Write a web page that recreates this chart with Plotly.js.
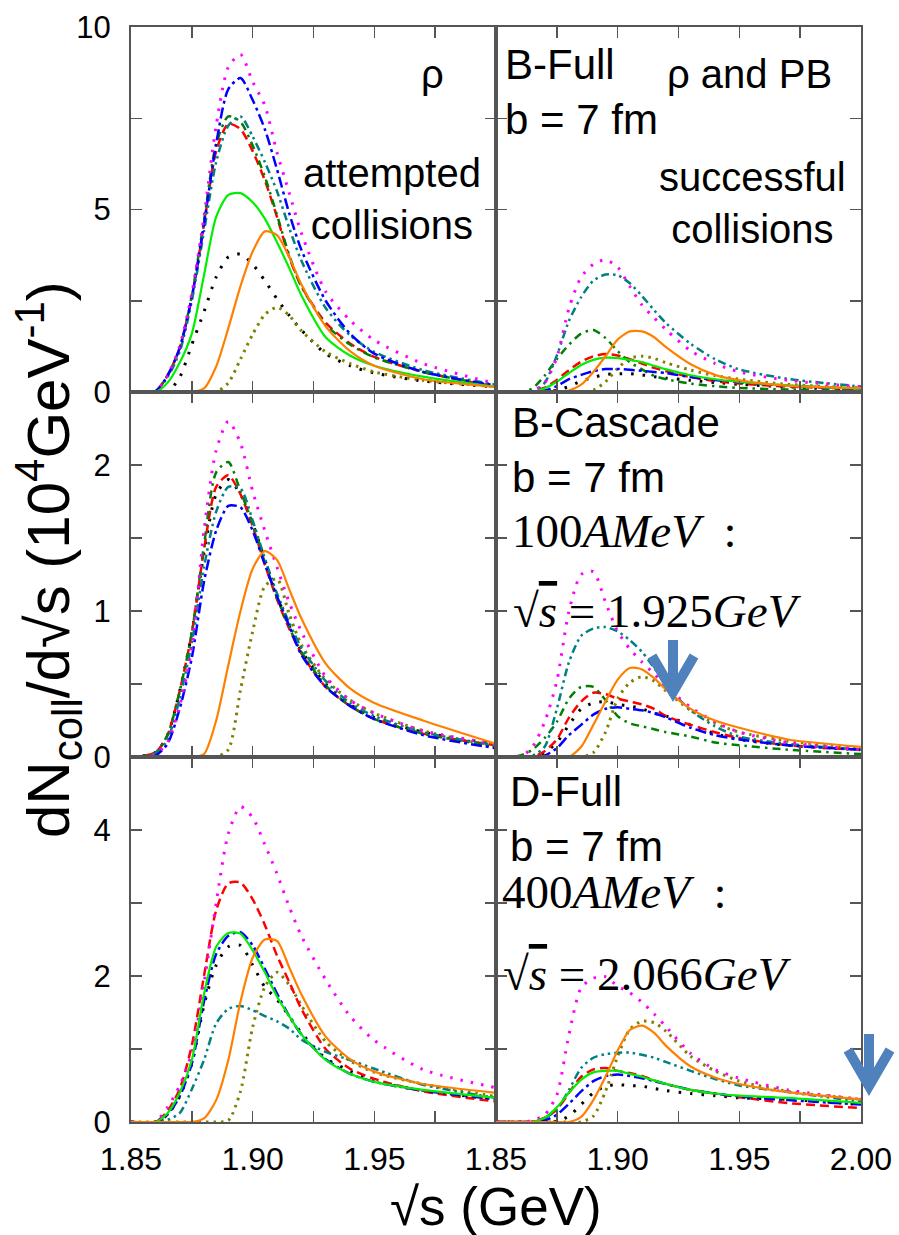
<!DOCTYPE html>
<html><head><meta charset="utf-8">
<script src="https://cdn.plot.ly/plotly-3.0.1.min.js"></script>
<style>html,body{margin:0;padding:0;background:#fff}#plot{width:899px;height:1235px}</style>
</head><body><div id="plot"></div>
<script>
// shared sqrt(s) grid (GeV)
const X = [1.85,1.86,1.865,1.87,1.875,1.88,1.885,1.89,1.895,1.90,1.905,1.91,1.915,1.92,1.93,1.94,1.95,1.97,2.00];

// ---- B-Full, rho, attempted collisions (top-left) ----
const TL_MAGENTA = [0,0.02,0.45,1.25,2.7,4.8,7.3,8.9,9.25,8.5,7.85,6.56,5.46,4.36,2.75,1.97,1.42,0.78,0.23];
const TL_BLUE    = [0,0.02,0.45,1.2,2.6,4.6,6.8,8.3,8.6,8.0,7.2,6.1,4.9,3.9,2.5,1.6,1.05,0.55,0.18];
const TL_TEAL    = [0,0.02,0.4,1.1,2.5,4.4,6.3,7.3,7.55,7.0,6.3,5.5,4.5,3.6,2.3,1.55,1.1,0.6,0.2];
const TL_RED     = [0,0.02,0.45,1.2,2.6,4.6,6.6,7.35,7.2,6.6,5.8,4.8,3.7,2.9,1.9,1.33,0.96,0.55,0.14];
const TL_DKGREEN = [0,0.02,0.45,1.2,2.65,4.7,6.8,7.55,7.4,6.75,5.9,4.85,3.75,2.9,1.85,1.3,0.95,0.55,0.15];
const TL_GREEN   = [0,0,0.25,0.8,1.6,3.2,4.8,5.4,5.45,5.2,4.75,4.1,3.4,2.65,1.5,1.0,0.72,0.42,0.14];
const TL_ORANGE  = [0,0,0,0,0,0.1,0.7,1.75,2.9,3.85,4.4,4.3,3.7,2.95,1.8,1.12,0.72,0.35,0.14];
const TL_BLACK   = [0,0,0,0.4,1.3,2.2,3.15,3.7,3.78,3.5,3.05,2.55,2.1,1.7,1.05,0.72,0.52,0.3,0.14];
const TL_OLIVE   = [0,0,0,0,0,0,0,0.25,0.9,1.58,2.12,2.32,2.1,1.68,1.1,0.78,0.55,0.32,0.15];

// ---- B-Full, rho and PB, successful collisions (top-right) ----
const TR_MAGENTA = [0,0,0.02,0.25,0.95,2.3,3.15,3.5,3.62,3.42,2.89,2.38,2.03,1.7,1.13,0.78,0.55,0.32,0.14];
const TR_TEAL    = [0,0,0,0.25,1.0,1.95,2.6,3.05,3.22,3.2,2.98,2.63,2.24,1.88,1.32,0.9,0.62,0.36,0.15];
const TR_DKGREEN = [0,0,0.1,0.45,0.9,1.3,1.6,1.7,1.48,1.12,0.82,0.62,0.44,0.35,0.23,0.16,0.11,0.07,0.04];
const TR_ORANGE  = [0,0,0,0,0,0.04,0.2,0.55,0.98,1.44,1.66,1.66,1.5,1.22,0.76,0.47,0.32,0.17,0.11];
const TR_RED     = [0,0,0.02,0.12,0.33,0.6,0.83,0.98,1.04,1.0,0.9,0.78,0.66,0.57,0.41,0.3,0.23,0.15,0.09];
const TR_GREEN   = [0,0,0,0.1,0.28,0.52,0.74,0.88,0.94,0.93,0.88,0.82,0.72,0.62,0.46,0.35,0.28,0.18,0.09];
const TR_BLUE    = [0,0,0,0.04,0.16,0.35,0.47,0.57,0.63,0.63,0.61,0.58,0.55,0.52,0.41,0.33,0.27,0.17,0.09];
const TR_BLACK   = [0,0,0,0,0.05,0.15,0.3,0.4,0.48,0.5,0.5,0.47,0.42,0.38,0.32,0.26,0.21,0.14,0.08];
const TR_OLIVE   = [0,0,0,0,0,0,0,0.05,0.28,0.65,0.92,0.98,0.92,0.8,0.6,0.45,0.35,0.21,0.11];

// ---- B-Cascade, attempted (middle-left) ----
const ML_MAGENTA = [0,0.02,0.1,0.35,0.75,1.55,2.1,2.3,2.15,1.82,1.55,1.3,1.06,0.86,0.55,0.39,0.3,0.18,0.09];
const ML_DKGREEN = [0,0.03,0.15,0.45,0.85,1.45,1.95,2.02,1.82,1.6,1.33,1.09,0.89,0.72,0.49,0.35,0.26,0.16,0.07];
const ML_RED     = [0,0.03,0.15,0.45,0.85,1.42,1.85,1.93,1.8,1.58,1.32,1.08,0.88,0.71,0.48,0.35,0.26,0.16,0.08];
const ML_BLACK   = [0,0.03,0.15,0.45,0.85,1.4,1.8,1.9,1.8,1.6,1.35,1.1,0.9,0.73,0.5,0.36,0.27,0.17,0.09];
const ML_TEAL    = [0,0.02,0.12,0.4,0.78,1.3,1.68,1.85,1.84,1.62,1.36,1.12,0.92,0.75,0.52,0.37,0.28,0.17,0.08];
const ML_BLUE    = [0,0.01,0.09,0.33,0.68,1.2,1.55,1.72,1.71,1.55,1.32,1.1,0.9,0.7,0.48,0.35,0.26,0.15,0.06];
const ML_ORANGE  = [0,0,0,0,0,0.02,0.25,0.63,1.0,1.29,1.41,1.35,1.15,0.95,0.64,0.47,0.37,0.25,0.09];
const ML_OLIVE   = [0,0,0,0,0,0,0,0.05,0.46,0.86,1.17,1.22,0.98,0.77,0.53,0.39,0.3,0.18,0.07];

// ---- B-Cascade, successful (middle-right) ----
const MR_MAGENTA = [0,0,0.07,0.24,0.52,1.0,1.25,1.27,1.06,0.86,0.74,0.65,0.57,0.48,0.34,0.24,0.17,0.1,0.05];
const MR_TEAL    = [0,0,0.01,0.07,0.33,0.65,0.83,0.88,0.89,0.86,0.8,0.72,0.61,0.49,0.32,0.21,0.14,0.09,0.05];
const MR_ORANGE  = [0,0,0,0,0,0,0.07,0.22,0.38,0.53,0.61,0.6,0.54,0.46,0.33,0.25,0.2,0.12,0.07];
const MR_OLIVE   = [0,0,0,0,0,0,0,0.03,0.17,0.4,0.51,0.55,0.52,0.45,0.32,0.23,0.17,0.11,0.06];
const MR_DKGREEN = [0,0.01,0.05,0.13,0.24,0.4,0.48,0.48,0.39,0.28,0.23,0.21,0.19,0.17,0.14,0.1,0.08,0.05,0.02];
const MR_RED     = [0,0,0,0.04,0.12,0.27,0.38,0.44,0.43,0.4,0.38,0.36,0.33,0.28,0.22,0.17,0.13,0.08,0.05];
const MR_BLACK   = [0,0,0,0.03,0.1,0.22,0.33,0.37,0.38,0.36,0.35,0.33,0.3,0.28,0.22,0.16,0.12,0.08,0.05];
const MR_BLUE    = [0,0,0,0.01,0.06,0.15,0.22,0.29,0.33,0.34,0.33,0.32,0.3,0.27,0.2,0.15,0.12,0.08,0.05];

// ---- D-Full, attempted (bottom-left) ----
const BL_MAGENTA = [0,0,0.2,0.5,0.95,1.9,3.0,3.95,4.32,4.17,3.8,3.4,2.95,2.55,1.95,1.45,1.12,0.72,0.47];
const BL_RED     = [0,0,0.15,0.45,1.05,2.0,2.9,3.27,3.28,3.05,2.7,2.28,1.92,1.55,1.0,0.73,0.59,0.42,0.28];
const BL_GREEN   = [0,0,0.12,0.4,0.85,1.75,2.4,2.59,2.58,2.35,2.05,1.72,1.45,1.2,0.85,0.66,0.55,0.44,0.33];
const BL_BLUE    = [0,0,0.1,0.35,0.8,1.65,2.3,2.55,2.6,2.42,2.1,1.76,1.45,1.2,0.86,0.66,0.55,0.43,0.31];
const BL_BLACK   = [0,0,0.1,0.35,0.8,1.6,2.15,2.4,2.42,2.15,1.85,1.68,1.45,1.22,0.87,0.7,0.56,0.43,0.31];
const BL_TEAL    = [0,0,0.03,0.12,0.45,0.85,1.35,1.55,1.59,1.53,1.45,1.38,1.28,1.13,0.96,0.85,0.73,0.51,0.33];
const BL_ORANGE  = [0,0,0,0,0,0.05,0.3,0.85,1.65,2.25,2.5,2.48,2.12,1.75,1.17,0.86,0.69,0.52,0.4];
const BL_OLIVE   = [0,0,0,0,0,0,0,0.02,0.42,1.3,1.85,2.05,1.88,1.6,1.1,0.84,0.68,0.52,0.35];

// ---- D-Full, successful (bottom-right) ----
const BR_MAGENTA = [0,0,0.02,0.1,0.37,1.2,1.84,1.97,1.99,1.86,1.77,1.64,1.48,1.3,0.94,0.72,0.6,0.44,0.31];
const BR_OLIVE   = [0,0,0,0,0,0,0,0.08,0.42,0.9,1.27,1.38,1.36,1.24,0.9,0.7,0.56,0.42,0.31];
const BR_ORANGE  = [0,0,0,0,0,0,0.07,0.3,0.62,0.98,1.26,1.32,1.22,1.04,0.76,0.61,0.52,0.41,0.31];
const BR_TEAL    = [0,0,0,0.05,0.17,0.44,0.74,0.88,0.93,0.95,0.95,0.92,0.88,0.82,0.7,0.59,0.5,0.41,0.28];
const BR_GREEN   = [0,0,0,0.06,0.2,0.4,0.58,0.68,0.7,0.7,0.66,0.62,0.57,0.52,0.44,0.39,0.36,0.33,0.26];
const BR_RED     = [0,0,0,0.06,0.17,0.4,0.62,0.72,0.74,0.7,0.67,0.63,0.57,0.52,0.44,0.39,0.34,0.26,0.19];
const BR_BLUE    = [0,0,0,0.02,0.1,0.25,0.42,0.56,0.63,0.65,0.63,0.6,0.56,0.52,0.44,0.39,0.35,0.3,0.24];
const BR_BLACK   = [0,0,0,0,0.01,0.08,0.24,0.4,0.49,0.51,0.5,0.49,0.46,0.43,0.39,0.36,0.33,0.31,0.24];

// tick labels
const X_TICKS = [1.85, 1.90, 1.95, 2.00];
const X_LABELS_LEFT  = ['1.85','1.90','1.95',''];
const X_LABELS_RIGHT = ['1.85','1.90','1.95','2.00'];
const Y_TICKS_TOP = [0,5,10], Y_TICKS_MID = [0,1,2], Y_TICKS_BOT = [0,2,4];

const STYLE = {
  black:   {color:'#000000', dash:'2.5px,9px', width:3},
  red:     {color:'#ff0000', dash:'9px,5px', width:2.5},
  green:   {color:'#00ee00', dash:'solid', width:2.2},
  blue:    {color:'#0000ff', dash:'11px,4px,3px,4px', width:2.5},
  teal:    {color:'#008080', dash:'8px,4px,2.5px,4px,2.5px,4px', width:2.5},
  magenta: {color:'#ff00ff', dash:'2.5px,8px', width:3},
  olive:   {color:'#808000', dash:'2.5px,5px', width:3},
  dkgreen: {color:'#008000', dash:'8px,5px,2.5px,5px', width:2.5},
  orange:  {color:'#ff8000', dash:'solid', width:2.2}
};

const PANELS = [
  {xa:'x',  ya:'y',  s:{black:TL_BLACK, olive:TL_OLIVE, red:TL_RED, dkgreen:TL_DKGREEN, teal:TL_TEAL, blue:TL_BLUE, magenta:TL_MAGENTA, green:TL_GREEN, orange:TL_ORANGE}},
  {xa:'x2', ya:'y2', s:{black:TR_BLACK, olive:TR_OLIVE, red:TR_RED, dkgreen:TR_DKGREEN, teal:TR_TEAL, blue:TR_BLUE, magenta:TR_MAGENTA, green:TR_GREEN, orange:TR_ORANGE}},
  {xa:'x3', ya:'y3', s:{black:ML_BLACK, olive:ML_OLIVE, red:ML_RED, dkgreen:ML_DKGREEN, teal:ML_TEAL, blue:ML_BLUE, magenta:ML_MAGENTA, orange:ML_ORANGE}},
  {xa:'x4', ya:'y4', s:{black:MR_BLACK, olive:MR_OLIVE, red:MR_RED, dkgreen:MR_DKGREEN, teal:MR_TEAL, blue:MR_BLUE, magenta:MR_MAGENTA, orange:MR_ORANGE}},
  {xa:'x5', ya:'y5', s:{black:BL_BLACK, olive:BL_OLIVE, red:BL_RED, teal:BL_TEAL, blue:BL_BLUE, magenta:BL_MAGENTA, green:BL_GREEN, orange:BL_ORANGE}},
  {xa:'x6', ya:'y6', s:{black:BR_BLACK, olive:BR_OLIVE, red:BR_RED, teal:BR_TEAL, blue:BR_BLUE, magenta:BR_MAGENTA, green:BR_GREEN, orange:BR_ORANGE}}
];

const traces = [];
PANELS.forEach(p => {
  Object.keys(p.s).forEach(k => {
    const st = STYLE[k];
    traces.push({x:X, y:p.s[k], xaxis:p.xa, yaxis:p.ya, type:'scatter', mode:'lines',
      line:{color:st.color, dash:st.dash, width:st.width, shape:'spline', smoothing:0.7},
      hoverinfo:'skip', showlegend:false});
  });
});

const SANS = 'Liberation Sans, Arial, sans-serif';
const SERIF = 'Liberation Serif, Times New Roman, serif';
const AX = '#555555';
function common() {
  return {showline:true, linecolor:AX, linewidth:2, mirror:'ticks', ticks:'inside', ticklen:11, tickwidth:1.5,
    tickcolor:AX, showgrid:false, zeroline:false, fixedrange:true};
}
function xaxis(domain, anchor, labels) {
  return Object.assign(common(), {domain:domain, anchor:anchor, range:[1.85,2.0], tickmode:'array',
    tickvals:X_TICKS, ticktext:labels || X_TICKS.map(()=>''), showticklabels:!!labels,
    tickfont:{family:SANS, size:32, color:'#000'}, ticklabelstandoff:8,
    minor:{tickmode:'linear', tick0:1.85, dtick:0.025, ticks:'inside', ticklen:11, tickwidth:1.5, tickcolor:AX, showgrid:false}});
}
function yaxis(domain, anchor, range, vals, minorD, labels) {
  return Object.assign(common(), {domain:domain, anchor:anchor, range:range, tickmode:'array', tickvals:vals,
    ticktext:vals.map(String), showticklabels:labels, tickfont:{family:SANS, size:31, color:'#000'}, ticklabelstandoff:12,
    minor:{tickmode:'linear', tick0:0, dtick:minorD, ticks:'inside', ticklen:11, tickwidth:1.5, tickcolor:AX, showgrid:false}});
}
const L=[0,0.5], R=[0.5,1], T=[2/3,1], M=[1/3,2/3], B=[0,1/3];

// pixel -> paper helpers for text placement
const PL=131, PT=27, PW=730, PH=1095;
const px = v => (v-PL)/PW, py = v => (PT+PH-v)/PH;

function txt(t, x, y, size, opts) {
  return Object.assign({text:t, xref:'paper', yref:'paper', x:px(x), y:py(y), showarrow:false,
    xanchor:'left', yanchor:'middle', align:'left', font:{family:SANS, size:size, color:'#000'}}, opts||{});
}
const serif = s => ({font:{family:SERIF, size:s, color:'#000'}});

const annotations = [
  txt('ρ', 432, 74, 40, {xanchor:'center'}),
  txt('attempted<br>collisions', 392, 199, 40, {xanchor:'center', align:'center'}),
  txt('B-Full<br>b = 7 fm', 503, 92, 42),
  txt('ρ and PB', 665, 74, 40),
  txt('successful<br>collisions', 752, 203, 40, {xanchor:'center', align:'center'}),
  txt('B-Cascade<br>b = 7 fm', 510, 450, 42),
  txt('100<i>AMeV</i>\u2002:', 510, 531, 47, serif(47)),
  txt('√<span style="text-decoration:overline"><i>s</i></span> = 1.925<i>GeV</i>', 511, 611, 47, serif(47)),
  txt('D-Full<br>b = 7 fm', 508, 819, 42),
  txt('400<i>AMeV</i>\u2002:', 500, 892, 47, serif(47)),
  txt('√<span style="text-decoration:overline"><i>s</i></span> = 2.066<i>GeV</i>', 501, 974, 47, serif(47)),
  txt('√s (GeV)', 496, 1206, 53, {xanchor:'center'}),
  txt('dN<sub>coll</sub>/d√s (10<sup>4</sup>GeV<sup>-1</sup>)', 48, 560, 60, {xanchor:'center', textangle:-90})
];

const ARROW = '#4F81BD';
function arrow(xp, yp) {
  return {type:'path', xref:'paper', yref:'paper', xsizemode:'pixel', ysizemode:'pixel',
    xanchor:px(xp), yanchor:py(yp), path:'M0,58 L0,6 M-21,42 L0,6 L21,42',
    line:{color:ARROW, width:10}};
}

const layout = {
  width:899, height:1235, margin:{l:PL, r:899-PL-PW, t:PT, b:1235-PT-PH},
  paper_bgcolor:'#fff', plot_bgcolor:'rgba(0,0,0,0)', showlegend:false,
  xaxis:  xaxis(L,'y'),  yaxis:  yaxis(T,'x',[0,10],Y_TICKS_TOP,2.5,true),
  xaxis2: xaxis(R,'y2'), yaxis2: yaxis(T,'x2',[0,10],Y_TICKS_TOP,2.5,false),
  xaxis3: xaxis(L,'y3'), yaxis3: yaxis(M,'x3',[0,2.5],Y_TICKS_MID,0.5,true),
  xaxis4: xaxis(R,'y4'), yaxis4: yaxis(M,'x4',[0,2.5],Y_TICKS_MID,0.5,false),
  xaxis5: xaxis(L,'y5',X_LABELS_LEFT),  yaxis5: yaxis(B,'x5',[0,5],Y_TICKS_BOT,1,true),
  xaxis6: xaxis(R,'y6',X_LABELS_RIGHT), yaxis6: yaxis(B,'x6',[0,5],Y_TICKS_BOT,1,false),
  annotations: annotations,
  shapes: [arrow(673, 698), arrow(869, 1092)]
};

Plotly.newPlot('plot', traces, layout, {displayModeBar:false, staticPlot:true});
</script></body></html>
